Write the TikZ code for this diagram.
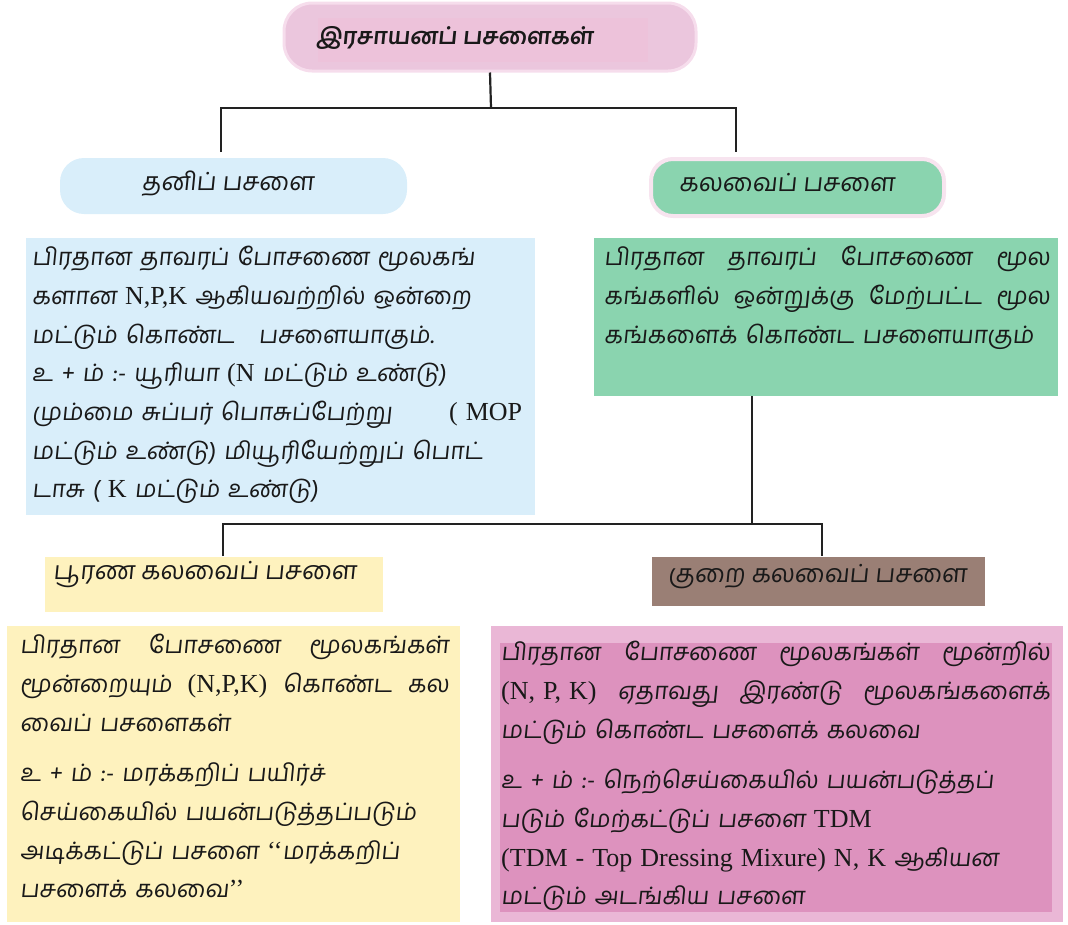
\documentclass[tikz,border=0pt]{standalone}
\usepackage{fontspec}
\setmainfont{Liberation Serif}
\newfontfamily\tamil[Script=Tamil,FakeSlant=0.1]{Hind Madurai}
\newfontfamily\latinf{Liberation Serif}
\newcommand\Lt[1]{{\latinf\fontsize{26}{38.5}\selectfont #1}}
\newcommand\jl[2]{\leavevmode\hbox to #1{#2}}
\definecolor{titlefill}{HTML}{EBC6DD}
\definecolor{titlering}{HTML}{F6DDEC}
\definecolor{titleinner}{HTML}{EDC2DA}
\definecolor{blueA}{HTML}{D9EEFA}
\definecolor{greenA}{HTML}{8AD4AF}
\definecolor{greenring}{HTML}{F7E4EF}
\definecolor{yellowA}{HTML}{FEF2BE}
\definecolor{brownA}{HTML}{9A7F75}
\definecolor{pinkout}{HTML}{EAB7D6}
\definecolor{pinkin}{HTML}{DD92BE}
\definecolor{linec}{HTML}{222222}
\tikzset{
  hd/.style={font=\tamil\fontsize{25}{30}\selectfont, inner sep=0, text=black!90},
  body/.style={font=\tamil\fontsize{24}{38.7}\selectfont, align=left, inner sep=0, anchor=north west, text=black!90},
  boxnw/.style={anchor=north west, inner sep=0, outer sep=0},
  conn/.style={draw=linec, line width=2.2pt}
}
\begin{document}
\begin{tikzpicture}[x=1pt,y=-1pt]
\useasboundingbox (0,0) rectangle (1068,924);
% title
\node[draw=titlering, line width=3pt, fill=titlefill, rounded corners=28pt, minimum width=412pt, minimum height=68pt, inner sep=0] (title) at (490,37) {};
\node[boxnw, fill=titleinner, minimum width=330pt, minimum height=44pt] (titlein) at (318,18) {};
\node[font=\tamil\bfseries\fontsize{23}{30}\selectfont, anchor=west, inner sep=0, text=black!90] (titletxt) at (316,38) {இரசாயனப் பசளைகள்};
% heads
\node[fill=blueA, rounded corners=24pt, minimum width=347pt, minimum height=56pt, inner sep=0] (hsingle) at (233.5,186) {};
\node[hd] (hsingletxt) at (228,184) {தனிப் பசளை};
\node[draw=greenring, line width=4pt, fill=greenA, rounded corners=22pt, minimum width=293pt, minimum height=57pt, inner sep=0] (hmix) at (797.5,187.5) {};
\node[hd, anchor=west] (hmixtxt) at (679,183) {கலவைப் பசளை};
% desc boxes
\node[boxnw, fill=blueA, minimum width=509pt, minimum height=277pt] (dsingle) at (26,238) {};
\node[body, text width=495pt] (dsingletxt) at (32,246) {பிரதான தாவரப் போசணை மூலகங்\\
களான \Lt{N,P,K} ஆகியவற்றில் ஒன்றை\\
மட்டும் கொண்ட\quad பசளையாகும்.\\
உ + ம் :- யூரியா \Lt{(N} மட்டும் உண்டு)\\
மும்மை சுப்பர் பொசுப்பேற்று\hspace{57pt}\Lt{( MOP}\\
மட்டும் உண்டு) மியூரியேற்றுப் பொட்\\
டாசு ( \Lt{K} மட்டும் உண்டு)};
\node[boxnw, fill=greenA, minimum width=464pt, minimum height=158pt] (dmix) at (594,238) {};
\node[body, text width=450pt] (dmixtxt) at (604,246) {\jl{446pt}{பிரதான\hfill தாவரப்\hfill போசணை\hfill மூல}\\
\jl{446pt}{கங்களில்\hfill ஒன்றுக்கு\hfill மேற்பட்ட\hfill மூல}\\
கங்களைக் கொண்ட பசளையாகும்};
% sub heads
\node[boxnw, fill=yellowA, minimum width=338pt, minimum height=55pt] (hfull) at (45,557) {};
\node[hd, anchor=west] (hfulltxt) at (53,575) {பூரண கலவைப் பசளை};
\node[boxnw, fill=brownA, minimum width=333pt, minimum height=49pt] (hpart) at (652,557) {};
\node[hd, anchor=west] (hparttxt) at (668,577) {குறை கலவைப் பசளை};
% bottom boxes
\node[boxnw, fill=yellowA, minimum width=453pt, minimum height=296pt] (dfull) at (7,626) {};
\node[body, text width=435pt] (dfulltxt) at (20,634) {\jl{429pt}{பிரதான\hfill போசணை\hfill மூலகங்கள்}\\
\jl{429pt}{மூன்றையும்\hfill \Lt{(N,P,K)}\hfill கொண்ட\hfill கல}\\
வைப் பசளைகள்\\[12pt]
உ + ம் :- மரக்கறிப் பயிர்ச்\\
செய்கையில் பயன்படுத்தப்படும்\\
அடிக்கட்டுப் பசளை \Lt{‘‘}மரக்கறிப்\\
பசளைக் கலவை\Lt{’’}};
\node[boxnw, fill=pinkout, minimum width=572pt, minimum height=296pt] (dpart) at (491,626) {};
\node[boxnw, fill=pinkin, minimum width=552pt, minimum height=269pt] (dpartin) at (500,643) {};
\node[body, text width=555pt] (dparttxt) at (501,641) {\jl{549pt}{பிரதான\hfill போசணை\hfill மூலகங்கள்\hfill மூன்றில்}\\
\jl{549pt}{\Lt{(N, P, K)}\hfill ஏதாவது\hfill இரண்டு\hfill மூலகங்களைக்}\\
மட்டும் கொண்ட பசளைக் கலவை\\[12pt]
உ + ம் :- நெற்செய்கையில் பயன்படுத்தப்\\
படும் மேற்கட்டுப் பசளை \Lt{TDM}\\
\Lt{(TDM - Top Dressing Mixure) N, K} ஆகியன\\
மட்டும் அடங்கிய பசளை};
% connectors
\coordinate (bus1) at (491,108);
\coordinate (jl) at (221,152);
\coordinate (jr) at (736,152);
\draw[conn] (title.south) -- (bus1);
\draw[conn] (jl) |- (bus1) -| (jr);
\coordinate (g1) at ([xshift=158pt]dmix.south west);
\coordinate (bus2) at (752,524);
\coordinate (kl) at (223,556);
\coordinate (kr) at (822,556);
\draw[conn] (g1) -- (bus2);
\draw[conn] (kl) |- (bus2) -| (kr);
\end{tikzpicture}
\end{document}
